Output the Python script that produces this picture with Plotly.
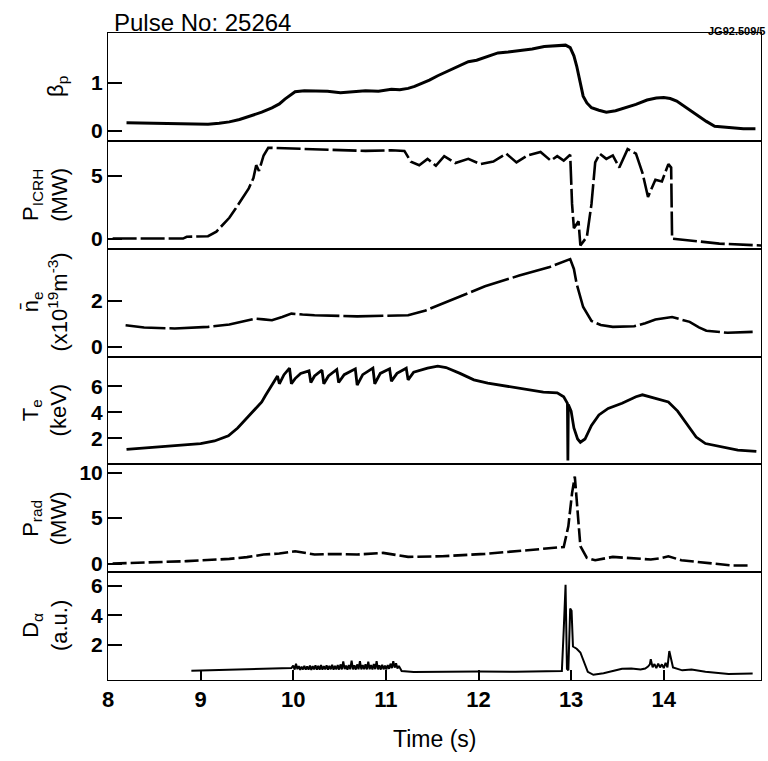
import plotly.graph_objects as go
from plotly.subplots import make_subplots

# ---- signals, JET pulse 25264 ----
t_beta = [8.2, 8.4, 8.62, 8.85, 9.08, 9.2, 9.31, 9.42, 9.54, 9.66, 9.77, 9.85, 9.91, 9.97, 10.02, 10.12,
          10.23, 10.37, 10.51, 10.65, 10.78, 10.92, 11.06, 11.15, 11.24, 11.31, 11.38, 11.47, 11.56, 11.65,
          11.75, 11.82, 11.89, 11.98, 12.07, 12.14, 12.21, 12.32, 12.44, 12.58, 12.71, 12.83, 12.94, 12.99,
          13.03, 13.06, 13.1, 13.13, 13.17, 13.22, 13.3, 13.38, 13.48, 13.59, 13.7, 13.82, 13.92, 14.0,
          14.07, 14.14, 14.25, 14.37, 14.46, 14.55, 14.65, 14.74, 14.86, 14.99]
beta_p = [0.17, 0.16, 0.15, 0.15, 0.14, 0.16, 0.19, 0.24, 0.31, 0.39, 0.48, 0.56, 0.66, 0.74, 0.81, 0.83,
          0.83, 0.82, 0.79, 0.81, 0.83, 0.82, 0.86, 0.85, 0.88, 0.92, 0.97, 1.05, 1.14, 1.22,
          1.31, 1.36, 1.43, 1.46, 1.52, 1.57, 1.61, 1.63, 1.66, 1.69, 1.74, 1.76, 1.77, 1.72,
          1.55, 1.34, 1.0, 0.72, 0.58, 0.48, 0.43, 0.39, 0.42, 0.48, 0.55, 0.64, 0.68, 0.69,
          0.67, 0.62, 0.48, 0.31, 0.2, 0.1, 0.08, 0.06, 0.05, 0.05]

t_icrh = [8.05, 8.4, 8.81, 8.85, 9.08, 9.17, 9.24, 9.31, 9.38, 9.45, 9.52, 9.57, 9.6, 9.63, 9.68, 9.73,
          10.0, 10.23, 10.51, 10.78, 11.06, 11.2, 11.27, 11.36, 11.45, 11.54, 11.63, 11.75, 11.89, 12.02,
          12.16, 12.3, 12.41, 12.53, 12.67, 12.78, 12.85, 12.92, 12.99, 13.01, 13.03, 13.08, 13.1, 13.17,
          13.22, 13.26, 13.31, 13.38, 13.45, 13.52, 13.61, 13.7, 13.77, 13.83, 13.91, 13.98, 14.05, 14.08,
          14.09, 14.28, 14.6, 15.05]
p_icrh = [0.0, 0.0, 0.0, 0.14, 0.19, 0.55, 1.1, 1.65, 2.4, 3.16, 3.98, 4.8, 5.82, 5.36, 6.59, 7.2,
          7.14, 7.09, 7.0, 6.95, 7.0, 6.95, 6.1, 5.82, 6.32, 5.77, 6.54, 5.99, 6.32, 5.9,
          6.1, 6.73, 6.04, 6.59, 6.87, 6.18, 6.54, 6.18, 6.65, 2.75, 0.82, 1.37, -0.55, 0.14,
          2.75, 6.04, 6.73, 6.32, 6.59, 5.63, 7.09, 6.73, 5.22, 3.3, 4.67, 4.53, 5.9, 5.63,
          0.0, -0.14, -0.4, -0.55]

t_ne = [8.19, 8.39, 8.72, 9.08, 9.31, 9.48, 9.59, 9.68, 9.77, 9.88, 9.98, 10.1, 10.23, 10.69, 11.24,
        11.43, 11.7, 12.07, 12.44, 12.76, 12.99, 13.03, 13.06, 13.13, 13.22, 13.32, 13.45, 13.68, 13.8,
        13.91, 14.09, 14.28, 14.38, 14.46, 14.69, 14.96]
n_e = [0.94, 0.84, 0.8, 0.87, 0.97, 1.12, 1.23, 1.2, 1.16, 1.3, 1.45, 1.41, 1.38, 1.33, 1.38,
       1.59, 2.03, 2.65, 3.12, 3.48, 3.84, 3.41, 2.75, 1.74, 1.13, 0.95, 0.87, 0.9, 1.03,
       1.19, 1.3, 1.09, 0.85, 0.7, 0.61, 0.65]

t_te = [8.2, 8.6, 9.0, 9.15, 9.3, 9.4, 9.5, 9.6, 9.66, 9.7, 9.75, 9.8, 9.83, 9.85, 9.9, 9.96, 9.98,
        10.02, 10.08, 10.17, 10.19, 10.23, 10.31, 10.33, 10.38, 10.47, 10.49, 10.55, 10.67, 10.69,
        10.75, 10.86, 10.88, 10.94, 11.04, 11.06, 11.12, 11.22, 11.24, 11.3, 11.45, 11.56, 11.65, 11.8,
        11.95, 12.1, 12.3, 12.5, 12.7, 12.85, 12.92, 12.96, 12.965, 12.97, 13.0, 13.03, 13.07, 13.1,
        13.15, 13.22, 13.3, 13.4, 13.55, 13.7, 13.77, 13.9, 14.05, 14.15, 14.25, 14.35, 14.45, 14.6,
        14.8, 15.0]
t_e = [1.15, 1.35, 1.6, 1.8, 2.2, 2.8, 3.6, 4.4, 4.8, 5.3, 5.9, 6.5, 6.8, 6.2, 6.9, 7.4, 6.2,
       6.6, 7.0, 7.2, 6.3, 6.8, 7.25, 6.2, 6.8, 7.3, 6.3, 6.9, 7.35, 6.1,
       6.9, 7.4, 6.2, 7.0, 7.35, 6.4, 7.0, 7.4, 6.5, 7.1, 7.4, 7.55, 7.45, 7.0,
       6.5, 6.25, 6.0, 5.75, 5.55, 5.5, 5.2, 4.7, 0.3, 4.6, 4.1, 2.8, 1.95, 1.7,
       1.95, 3.0, 3.8, 4.3, 4.7, 5.2, 5.35, 5.1, 4.8, 4.1, 3.1, 2.1, 1.6, 1.4,
       1.1, 1.0]

t_rad = [8.05, 8.4, 8.85, 9.31, 9.5, 9.68, 9.85, 10.02, 10.23, 10.45, 10.69, 10.97, 11.24, 11.61,
         12.07, 12.53, 12.92, 12.97, 13.01, 13.04, 13.07, 13.1, 13.17, 13.26, 13.45, 13.63, 13.86,
         13.95, 14.05, 14.19, 14.46, 14.74, 14.94]
p_rad = [0.0, 0.1, 0.26, 0.51, 0.7, 0.99, 1.1, 1.35, 0.99, 1.05, 0.99, 1.17, 0.73, 0.8,
         1.06, 1.46, 1.82, 4.09, 7.74, 9.56, 5.9, 1.9, 0.62, 0.36, 0.73, 0.62, 0.44,
         0.55, 0.8, 0.36, 0.07, -0.22, -0.22]

t_da = [8.9, 9.3, 9.6, 9.9, 9.98, 10.0, 10.015, 10.03, 10.045, 10.06, 10.075, 10.09, 10.105, 10.12,
        10.135, 10.15, 10.165, 10.18, 10.195, 10.21, 10.225, 10.24, 10.255, 10.27, 10.285, 10.3,
        10.315, 10.33, 10.345, 10.36, 10.375, 10.39, 10.405, 10.42, 10.435, 10.45, 10.465, 10.48,
        10.495, 10.51, 10.525, 10.54, 10.555, 10.57, 10.585, 10.6, 10.615, 10.63, 10.645, 10.66,
        10.675, 10.69, 10.705, 10.72, 10.735, 10.75, 10.765, 10.78, 10.795, 10.81, 10.825, 10.84,
        10.855, 10.87, 10.885, 10.9, 10.915, 10.93, 10.945, 10.96, 10.975, 10.99, 11.005, 11.02,
        11.035, 11.05, 11.065, 11.08, 11.095, 11.11, 11.125, 11.14, 11.17, 11.3, 11.6, 12.0, 12.4,
        12.8, 12.9, 12.92, 12.94, 12.955, 12.97, 12.99, 13.005, 13.02, 13.06, 13.1, 13.14, 13.18,
        13.24, 13.35, 13.45, 13.55, 13.65, 13.75, 13.8, 13.83, 13.85, 13.86, 13.88, 13.9, 13.92,
        13.94, 13.96, 13.98, 14.0, 14.02, 14.04, 14.06, 14.1, 14.2, 14.3, 14.45, 14.7, 14.96]
d_alpha = [0.27, 0.33, 0.38, 0.43, 0.45, 0.62, 0.35, 0.75, 0.38, 0.58, 0.33, 0.55, 0.36, 0.6,
           0.34, 0.57, 0.35, 0.62, 0.33, 0.58, 0.36, 0.64, 0.34, 0.6, 0.35, 0.66, 0.34, 0.58,
           0.36, 0.63, 0.35, 0.6, 0.37, 0.68, 0.34, 0.6, 0.36, 0.66, 0.35, 0.7, 0.36, 0.9,
           0.38, 0.62, 0.35, 0.66, 0.37, 0.95, 0.36, 0.64, 0.35, 0.7, 0.37, 0.92, 0.36, 0.65,
           0.38, 0.7, 0.36, 0.88, 0.37, 0.66, 0.36, 0.72, 0.38, 0.92, 0.36, 0.64, 0.35, 0.68,
           0.37, 0.62, 0.36, 0.66, 0.4, 0.75, 0.45, 0.92, 0.48, 0.78, 0.42, 0.6, 0.25, 0.18,
           0.2, 0.22, 0.2, 0.22, 0.25, 3.0, 6.05, 0.4, 0.3, 4.45, 4.3, 1.9, 1.75, 1.5, 0.8, 0.2,
           0.0, 0.1, 0.25, 0.4, 0.42, 0.35, 0.42, 0.55, 0.7, 1.05, 0.5, 0.72, 0.45, 0.75, 0.5,
           0.7, 0.45, 0.8, 0.5, 1.6, 0.5, 0.3, 0.35, 0.2, 0.05, 0.08, 0.11]

y_ticks = [[0, 1], [0, 5], [0, 2], [2, 4, 6], [0, 5, 10], [2, 4, 6]]
x_ticks = [8, 9, 10, 11, 12, 13, 14]
y_titles = ["β<sub>p</sub>",
            "P<sub>ICRH</sub><br>(MW)",
            "n̄<sub>e</sub><br>(x10<sup>19</sup>m<sup>-3</sup>)",
            "T<sub>e</sub><br>(keV)",
            "P<sub>rad</sub><br>(MW)",
            "D<sub>α</sub><br>(a.u.)"]

FONT = "Liberation Sans, Arial, sans-serif"
L_MARGIN = 108

series = [
    (t_beta, beta_p, 3.0, "solid"),
    (t_icrh, p_icrh, 2.6, "24px,4px"),
    (t_ne, n_e, 2.6, "40px,4px"),
    (t_te, t_e, 2.8, "solid"),
    (t_rad, p_rad, 2.6, "14px,4px"),
    (t_da, d_alpha, 2.0, "solid"),
]
y_ranges = [[-0.2, 2.02], [-0.8, 7.75], [-0.43, 4.3], [0, 8.3], [-0.95, 10.9], [-0.35, 6.9]]
title_centers = [57, 45, 45, 45, 45, 45]

fig = make_subplots(rows=6, cols=1, shared_xaxes=True, vertical_spacing=0)

for i, (tx, vy, w, d) in enumerate(series):
    fig.add_trace(go.Scatter(x=tx, y=vy, mode="lines",
                             line=dict(color="black", width=w, dash=d),
                             showlegend=False, hoverinfo="skip"), row=i + 1, col=1)
    fig.update_yaxes(range=y_ranges[i], tickvals=y_ticks[i], ticks="inside", ticklen=14,
                     tickwidth=2, tickcolor="black", showline=True, linewidth=1.1,
                     linecolor="black", mirror=True, showgrid=False, zeroline=False,
                     tickfont=dict(family=FONT, size=21, color="black", weight="bold"),
                     row=i + 1, col=1)
    yname = "y" if i == 0 else f"y{i + 1}"
    fig.add_annotation(text=y_titles[i], textangle=-90, xref="paper", x=0,
                       xanchor="center", xshift=title_centers[i] - L_MARGIN,
                       yref=f"{yname} domain", y=0.5, yanchor="middle", showarrow=False,
                       font=dict(family=FONT, size=22, color="black"))

fig.update_xaxes(range=[8, 15.05], showline=True, linewidth=1.1, linecolor="black",
                 mirror=True, showgrid=False, zeroline=False, ticks="", showticklabels=False)
fig.update_xaxes(tickvals=x_ticks, ticks="inside", ticklen=10, tickwidth=2, tickcolor="black",
                 showticklabels=True,
                 tickfont=dict(family=FONT, size=22, color="black", weight="bold"),
                 row=6, col=1)

fig.add_annotation(text="Time (s)", xref="paper", x=0.5, yref="paper", y=0, yanchor="top",
                   yshift=-44, showarrow=False, font=dict(family=FONT, size=23, color="black"))
fig.add_annotation(text="Pulse No: 25264", xref="paper", x=0, xanchor="left", xshift=4,
                   yref="paper", y=1, yanchor="bottom", yshift=-5, showarrow=False,
                   font=dict(family=FONT, size=24, color="black"))
fig.add_annotation(text="JG92.509/5", xref="paper", x=1, xanchor="right", xshift=7,
                   yref="paper", y=1, yanchor="bottom", yshift=-6, showarrow=False,
                   font=dict(family=FONT, size=11, color="black", weight="bold"))

fig.update_layout(width=768, height=761, margin=dict(l=L_MARGIN, r=7, t=33, b=81),
                  paper_bgcolor="white", plot_bgcolor="white")

fig.write_html("out.html")
